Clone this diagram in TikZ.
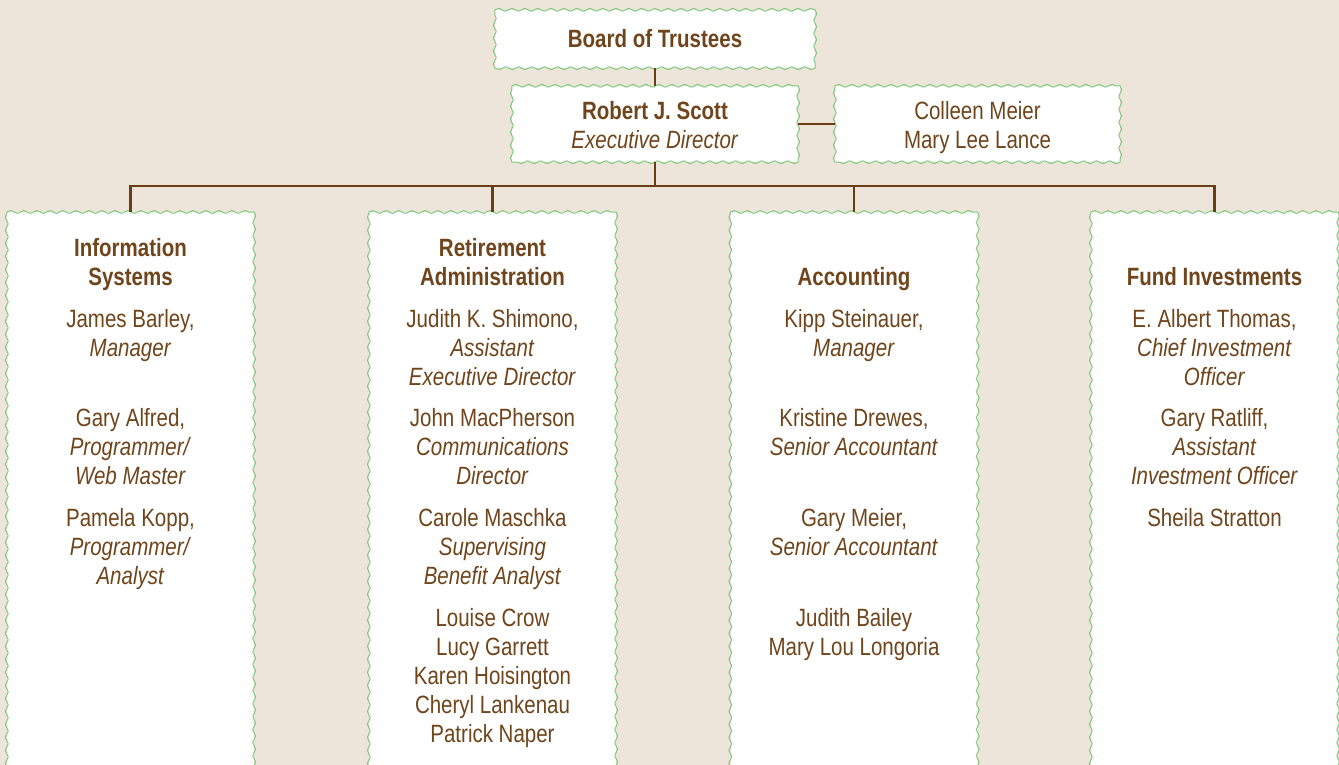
\documentclass[tikz,border=0pt]{standalone}
\usepackage{fontspec}
\setmainfont[FakeStretch=0.82]{Liberation Sans}
\usetikzlibrary{decorations.pathmorphing}

\definecolor{paper}{HTML}{EEE5DA}
\definecolor{ink}{HTML}{70451C}
\definecolor{rulebrown}{HTML}{6A3E12}
\definecolor{wave}{HTML}{7DC87A}

\newcommand\orgfont{\fontsize{25}{29}\selectfont}

\tikzset{
  box/.style={fill=white, inner sep=0pt, text=ink, align=center, font=\orgfont},
  colbox/.style={box, anchor=north, minimum width=247pt, minimum height=620pt},
  wavyline/.style={draw=wave, line width=1.0pt, decorate,
    decoration={snake, segment length=13pt, amplitude=1.4pt}},
  link/.style={draw=rulebrown, line width=2.4pt},
  entry/.style={text=ink, anchor=base, inner sep=0pt, font=\orgfont},
}

% scalloped outline, one side at a time so the corners stay square
\newcommand\wavyframe[1]{%
  \draw[wavyline] (#1.north west) -- (#1.north east);
  \draw[wavyline] (#1.north east) -- (#1.south east);
  \draw[wavyline] (#1.south east) -- (#1.south west);
  \draw[wavyline] (#1.south west) -- (#1.north west);
}

\begin{document}
\begin{tikzpicture}[x=1pt, y=-1pt]
  \useasboundingbox (0,0) rectangle (1339,765);
  \clip (0,0) rectangle (1339,765);
  \fill[paper] (0,0) rectangle (1339,765);

  % top of the chart
  \node[box, minimum width=320pt, minimum height=58pt] (board) at (655,39)
    {\textbf{Board of Trustees}};
  \node[box, minimum width=286pt, minimum height=76pt] (exec) at (655,124)
    {\rule{0pt}{20pt}\textbf{Robert J. Scott}\\\textit{Executive Director}};
  \node[box, minimum width=285pt, minimum height=76pt] (staff) at (977.5,124)
    {\rule{0pt}{26pt}Colleen Meier\\Mary Lee Lance};

  % department panels, running off the bottom edge
  \node[colbox] (col1) at (130.5,212) {};
  \node[colbox] (col2) at (492.5,212) {};
  \node[colbox] (col3) at (854,212) {};
  \node[colbox] (col4) at (1214.5,212) {};

  \foreach \n in {board,exec,staff,col1,col2,col3,col4}{\wavyframe{\n}}

  % connectors
  \coordinate (bus) at (655,186);
  \draw[link] (board.south) -- (exec.north);
  \draw[link] (exec.east) -- (staff.west);
  \draw[link] (exec.south) -- (bus);
  \draw[link] (col1.north) |- (bus) -| (col4.north);
  \draw[link] (col2.north) |- (bus);
  \draw[link] (col3.north) |- (bus);

  % Information Systems
  \foreach \y/\t [count=\i] in {
    256/\textbf{Information}, 285/\textbf{Systems},
    327/{James Barley,}, 356/\textit{Manager},
    426/{Gary Alfred,}, 455/\textit{Programmer/}, 484/\textit{Web Master},
    526/{Pamela Kopp,}, 555/\textit{Programmer/}, 584/\textit{Analyst}}
    \node[entry] (is-\i) at (130.5,\y) {\t};

  % Retirement Administration
  \foreach \y/\t [count=\i] in {
    256/\textbf{Retirement}, 285/\textbf{Administration},
    327/{Judith K. Shimono,}, 356/\textit{Assistant}, 385/\textit{Executive Director},
    426/{John MacPherson}, 455/\textit{Communications}, 484/\textit{Director},
    526/{Carole Maschka}, 555/\textit{Supervising}, 584/\textit{Benefit Analyst},
    626/{Louise Crow}, 655/{Lucy Garrett}, 684/{Karen Hoisington},
    713/{Cheryl Lankenau}, 742/{Patrick Naper}}
    \node[entry] (ra-\i) at (492.5,\y) {\t};

  % Accounting
  \foreach \y/\t [count=\i] in {
    285/\textbf{Accounting},
    327/{Kipp Steinauer,}, 356/\textit{Manager},
    426/{Kristine Drewes,}, 455/\textit{Senior Accountant},
    526/{Gary Meier,}, 555/\textit{Senior Accountant},
    626/{Judith Bailey}, 655/{Mary Lou Longoria}}
    \node[entry] (ac-\i) at (854,\y) {\t};

  % Fund Investments
  \foreach \y/\t [count=\i] in {
    285/\textbf{Fund Investments},
    327/{E. Albert Thomas,}, 356/\textit{Chief Investment}, 385/\textit{Officer},
    426/{Gary Ratliff,}, 455/\textit{Assistant}, 484/\textit{Investment Officer},
    526/{Sheila Stratton}}
    \node[entry] (fi-\i) at (1214.5,\y) {\t};
\end{tikzpicture}
\end{document}
